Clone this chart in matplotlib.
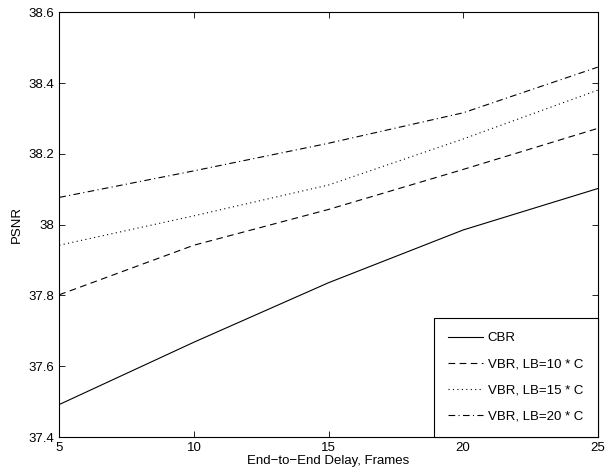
import numpy as np
import matplotlib.pyplot as plt

plt.rcParams['font.family'] = ['Liberation Sans', 'DejaVu Sans']

delay = [5, 10, 15, 20, 25]
cbr = [37.492, 37.668, 37.836, 37.985, 38.102]
vbr_10 = [37.802, 37.942, 38.043, 38.156, 38.272]
vbr_15 = [37.942, 38.025, 38.112, 38.242, 38.380]
vbr_20 = [38.077, 38.152, 38.230, 38.316, 38.445]

fig = plt.figure(figsize=(6.05, 4.72), dpi=100)
ax = fig.add_axes([0.098, 0.074, 0.890, 0.900])

ax.plot(delay, cbr, 'k-', lw=0.8, label='CBR')
ax.plot(delay, vbr_10, 'k--', lw=0.8, dashes=(6, 4), label='VBR, LB=10 * C')
ax.plot(delay, vbr_15, 'k:', lw=0.8, dashes=(1, 3), label='VBR, LB=15 * C')
ax.plot(delay, vbr_20, 'k-.', lw=0.8, dashes=(6, 3, 1, 3), label='VBR, LB=20 * C')

ax.set_xlim(5, 25)
ax.set_ylim(37.4, 38.6)
ax.set_xticks([5, 10, 15, 20, 25])
ax.set_xticklabels(['5', '10', '15', '20', '25'])
ax.set_yticks([37.4, 37.6, 37.8, 38.0, 38.2, 38.4, 38.6])
ax.set_yticklabels(['37.4', '37.6', '37.8', '38', '38.2', '38.4', '38.6'])
ax.tick_params(direction='in', top=True, right=True, labelsize=9.5, length=4, width=0.6)
for s in ax.spines.values():
    s.set_linewidth(0.8)

ax.set_xlabel('End\u2212to\u2212End Delay, Frames', fontsize=9.5, labelpad=1)
ax.set_ylabel('PSNR', fontsize=9.5, labelpad=4)

leg = ax.legend(loc='lower right', fontsize=9.5, fancybox=False, framealpha=1,
                edgecolor='black', borderaxespad=0, handlelength=2.6,
                handletextpad=0.4, borderpad=1.1, labelspacing=1.05)
leg.get_frame().set_linewidth(0.8)

fig.savefig('out.png', dpi=100)
